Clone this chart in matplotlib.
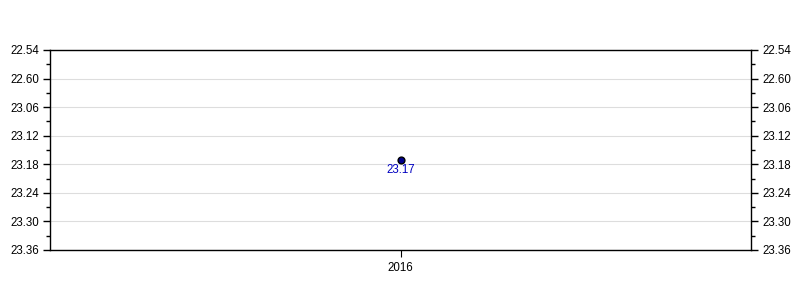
import matplotlib
matplotlib.use("Agg")
import matplotlib.pyplot as plt
from matplotlib.ticker import FixedLocator

plt.rcParams['font.family'] = ['Liberation Sans', 'DejaVu Sans']

categories = ["2016"]
values_sec = [23 * 60 + 17]          # 23.17 (min.sec)
value_labels = ["23.17"]
ytick_secs = [1374, 1380, 1386, 1392, 1398, 1404, 1410, 1416]
ytick_labels = ["22.54", "22.60", "23.06", "23.12", "23.18", "23.24", "23.30", "23.36"]

fig = plt.figure(figsize=(8, 3), dpi=100)
ax = fig.add_axes([50/800, 50/300, 701/800, 200/300])

x = list(range(len(categories)))
ax.scatter(x, values_sec, s=24, color='#00008b', edgecolors='black', linewidths=1, zorder=3)
for xi, v, lab in zip(x, values_sec, value_labels):
    ax.annotate(lab, (xi, v), xytext=(0, -7.5), textcoords='offset points',
                ha='center', va='center', color='#0000c0', fontsize=8.3)

ax.set_xlim(-0.5, 0.5)
ax.set_ylim(1416, 1374)
ax.set_xticks(x)
ax.set_xticklabels(categories, fontsize=8.3)
ax.set_yticks(ytick_secs)
ax.set_yticklabels(ytick_labels, fontsize=8.3)
ax.yaxis.set_minor_locator(FixedLocator([s + 3 for s in ytick_secs[:-1]]))
ax.tick_params(axis='y', which='both', left=True, right=True, labelleft=True, labelright=True,
               direction='out', length=5, width=1, colors='black', pad=3)
ax.tick_params(axis='y', which='minor', length=3)
ax.tick_params(axis='x', direction='out', length=5)
ax.grid(axis='y', which='major', color='#dddddd', linewidth=0.8)
ax.set_axisbelow(True)
for s in ax.spines.values():
    s.set_color('black')
    s.set_linewidth(1)

fig.savefig("out.png", dpi=100)
